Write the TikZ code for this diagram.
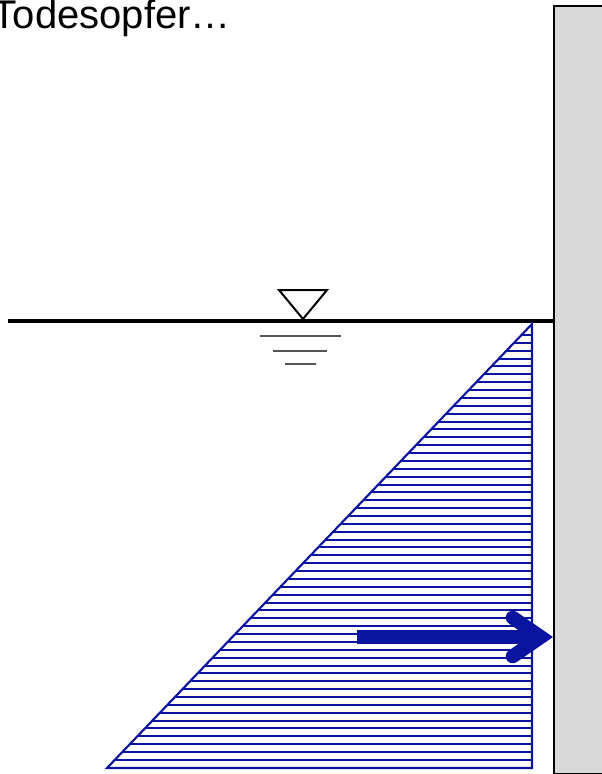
\documentclass[tikz,border=0pt]{standalone}
\usepackage{fontspec}
\setmainfont{Liberation Sans}
\usetikzlibrary{arrows.meta}
\definecolor{loadblue}{HTML}{0A14A0}
\definecolor{wallgray}{HTML}{D9D9D9}
\definecolor{levelgray}{HTML}{555555}
\begin{document}
\begin{tikzpicture}[
  x=0.75pt,y=-0.75pt,
  title/.style={anchor=base west,inner sep=0pt,font=\fontsize{30pt}{36pt}\selectfont},
  wall/.style={draw=black,line width=1.5pt,fill=wallgray,anchor=north west,inner sep=0pt,minimum width=42pt,minimum height=576pt},
  surface/.style={draw=black,line width=3pt},
  level/.style={draw=levelgray,line width=1.2pt},
  marker/.style={draw=black,line width=1.5pt,line join=miter},
  hatch/.style={draw=loadblue,line width=1.5pt},
  load/.style={draw=loadblue,line width=1.6pt,line join=miter},
  force/.style={draw=loadblue,line width=10.5pt,-{Straight Barb[length=21pt,width=29pt,line cap=round,line join=miter]}}
]
\useasboundingbox (0,0) rectangle (602,774);
\node[title] (caption) at (-7.5,28.3) {Todesopfer…};
\node[wall] (wall) at (553,5) {};
\coordinate (shore) at (8,321);
\draw[surface] (shore) -- (shore -| wall.west);
\draw[marker] (279,290) -- (327,290) -- (303,319) -- cycle;
\draw[level] (260,336) -- (341,336);
\draw[level] (273,351) -- (327,351);
\draw[level] (285,364) -- (316,364);
\coordinate (toe) at (107,768);
\coordinate (heel) at (532,768);
\coordinate (crest) at (532,324);
\begin{scope}
  \clip (toe) -- (heel) -- (crest) -- cycle;
  \foreach \k [evaluate=\k as \yy using {round(335+7.87*\k)}] in {0,...,54}
    \draw[hatch] (100,\yy) -- (540,\yy);
\end{scope}
\draw[load] (toe) -- (heel) -- (crest) -- cycle;
\coordinate (ftail) at (357,637);
\draw[force] (ftail) -- (ftail -| wall.west);
\end{tikzpicture}
\end{document}
